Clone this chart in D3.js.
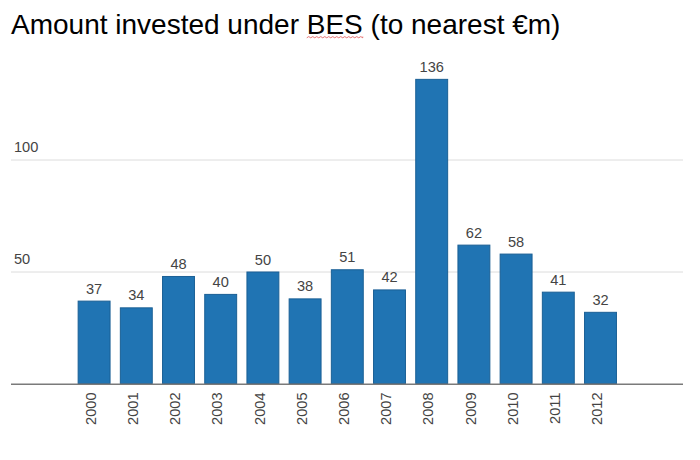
<!DOCTYPE html>
<html><head><meta charset="utf-8">
<script src="https://cdn.jsdelivr.net/npm/d3@7"></script>
<style>
html,body{margin:0;padding:0;background:#fff;}
svg{display:block;font-family:Arial,"Liberation Sans",sans-serif;}
</style></head>
<body><svg id="c" width="700" height="460"></svg>
<script>
const title = "Amount invested under BES (to nearest €m)";
const years = ["2000","2001","2002","2003","2004","2005","2006","2007","2008","2009","2010","2011","2012"];
const amounts = [37,34,48,40,50,38,51,42,136,62,58,41,32];
const yTicks = [50,100];

const svg = d3.select("#c");
const x = d3.scaleBand().domain(years).range([73, 621.6]).paddingInner(0.22).paddingOuter(0.11);
const y = d3.scaleLinear().domain([0,100]).range([383.5,159.5]);
const plotLeft = 11, plotRight = 683;
const lblSize = 14.6;

// title
const t = svg.append("text").attr("x",11).attr("y",33.5)
  .attr("font-size",28).attr("fill","#000");
t.append("tspan").text("Amount invested under ");
t.append("tspan").text("BES");
t.append("tspan").text(" (to nearest €m)");
// spell-check squiggle under BES
const full = t.node();
const startIdx = title.indexOf("BES");
const sx = 11 + full.getSubStringLength(0, startIdx);
const sw = full.getSubStringLength(startIdx, 3);
const sq = d3.path();
sq.moveTo(sx, 37.8);
for (let i = 0, px = sx; px < sx + sw; i++) { px += 2; sq.lineTo(Math.min(px, sx+sw), i % 2 ? 37.8 : 36.6); }
svg.append("path").attr("d", sq.toString()).attr("fill","none").attr("stroke","#e05050").attr("stroke-width",0.8);

// gridlines
const yAxis = d3.axisLeft(y).tickValues(yTicks).tickSize(-(plotRight-plotLeft)).tickFormat(d3.format("d"));
const ga = svg.append("g").attr("transform",`translate(${plotLeft},0)`).call(yAxis);
ga.select(".domain").remove();
ga.selectAll(".tick line").attr("stroke","#dcdcdc").attr("stroke-width",1);
ga.selectAll(".tick text").attr("x",3).attr("dy",-8.5).attr("text-anchor","start")
  .attr("font-size",lblSize).attr("fill","#444").attr("font-family","Arial,'Liberation Sans',sans-serif");

// bars
svg.append("g").selectAll("rect").data(amounts).join("rect")
  .attr("x",(d,i)=>x(years[i])+0.5).attr("width",x.bandwidth()-1)
  .attr("y",d=>y(d)+0.5).attr("height",d=>y(0)-y(d)-0.5)
  .attr("fill","#2074b3").attr("stroke","#1a5f95").attr("stroke-width",1);

// value labels
svg.append("g").selectAll("text").data(amounts).join("text")
  .attr("x",(d,i)=>x(years[i])+x.bandwidth()/2).attr("y",d=>y(d)-7)
  .attr("text-anchor","middle").attr("font-size",lblSize).attr("fill","#444").text(d=>d);

// baseline
svg.append("line").attr("x1",plotLeft).attr("x2",plotRight).attr("y1",y(0)+0.7).attr("y2",y(0)+0.7)
  .attr("stroke","#7a7a7a").attr("stroke-width",1.6);

// x labels
const xAxis = d3.axisBottom(x).tickSize(0);
const gx = svg.append("g").attr("transform",`translate(0,${y(0)})`).call(xAxis);
gx.select(".domain").remove();
gx.selectAll(".tick text").attr("transform","rotate(-90)").attr("text-anchor","end")
  .attr("x",-9).attr("y",0).attr("dx",0).attr("dy","0.12em")
  .attr("font-size",lblSize).attr("fill","#444").attr("font-family","Arial,'Liberation Sans',sans-serif");
</script></body></html>
